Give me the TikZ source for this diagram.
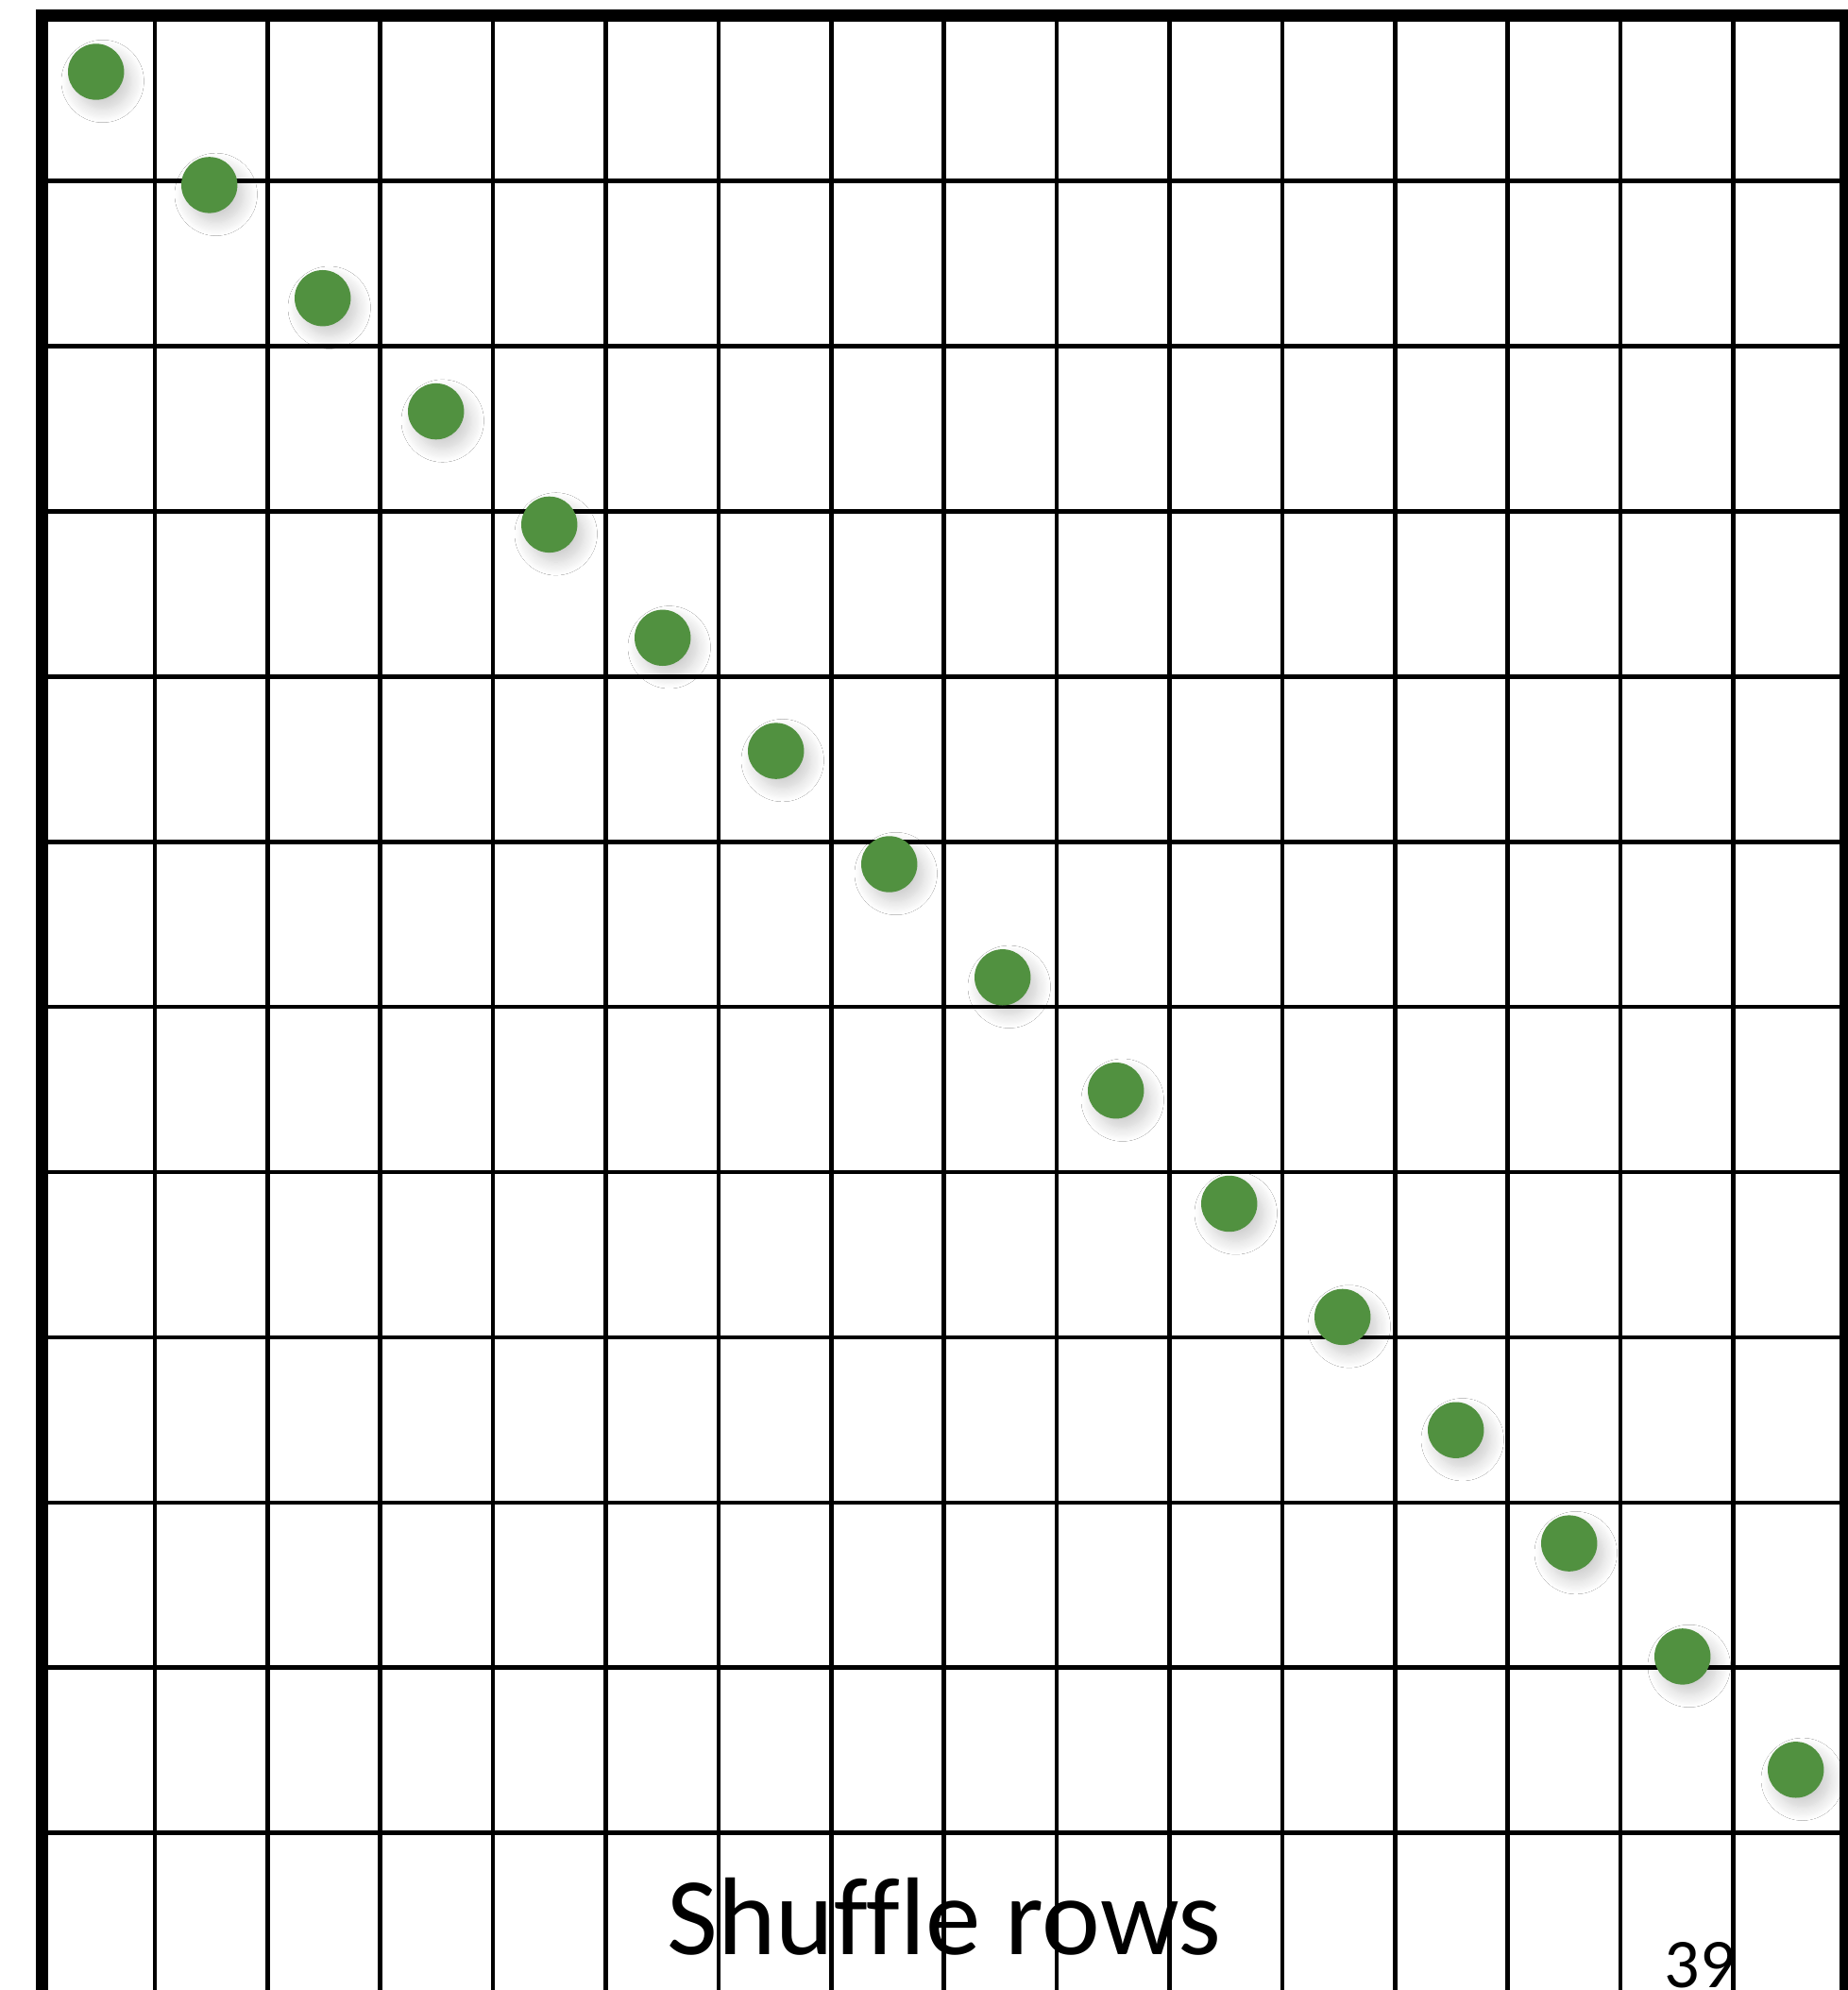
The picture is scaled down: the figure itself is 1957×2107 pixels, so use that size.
\documentclass[tikz,border=0pt]{standalone}
\usepackage{fontspec}
\setmainfont{Carlito}[Ligatures=CommonOff]
\usepackage{tikz}
\usetikzlibrary{shadows.blur}
\definecolor{dotgreen}{RGB}{81,145,64}

\begin{document}
\begin{tikzpicture}[x=0.5pt, y=-0.5pt,
  gridline/.style={line width=2.3pt},
  dot/.style={circle, fill=dotgreen, inner sep=0pt, minimum size=29.7pt,
    blur shadow={shadow xshift=3.5pt, shadow yshift=-5pt, shadow blur radius=7pt,
      shadow blur steps=12, shadow opacity=20}}]
  \useasboundingbox (0, 0) rectangle (1957, 2107);
  \clip (0, 0) rectangle (1957, 2107);
  \fill[white] (0, 0) rectangle (1957, 2107);

  % rows
  \draw[gridline] (44.5, 191.6) -- (1954.5, 191.6);
  \draw[gridline] (44.5, 366.5) -- (1954.5, 366.5);
  \draw[gridline] (44.5, 541.4) -- (1954.5, 541.4);
  \draw[gridline] (44.5, 716.3) -- (1954.5, 716.3);
  \draw[gridline] (44.5, 891.2) -- (1954.5, 891.2);
  \draw[gridline] (44.5, 1066.1) -- (1954.5, 1066.1);
  \draw[gridline] (44.5, 1241) -- (1954.5, 1241);
  \draw[gridline] (44.5, 1415.9) -- (1954.5, 1415.9);
  \draw[gridline] (44.5, 1590.8) -- (1954.5, 1590.8);
  \draw[gridline] (44.5, 1765.7) -- (1954.5, 1765.7);
  \draw[gridline] (44.5, 1940.6) -- (1954.5, 1940.6);

  % columns
  \draw[gridline] (163.9, 16.7) -- (163.9, 2120);
  \draw[gridline] (283.3, 16.7) -- (283.3, 2120);
  \draw[gridline] (402.7, 16.7) -- (402.7, 2120);
  \draw[gridline] (522.1, 16.7) -- (522.1, 2120);
  \draw[gridline] (641.5, 16.7) -- (641.5, 2120);
  \draw[gridline] (760.9, 16.7) -- (760.9, 2120);
  \draw[gridline] (880.3, 16.7) -- (880.3, 2120);
  \draw[gridline] (999.7, 16.7) -- (999.7, 2120);
  \draw[gridline] (1119.1, 16.7) -- (1119.1, 2120);
  \draw[gridline] (1238.5, 16.7) -- (1238.5, 2120);
  \draw[gridline] (1357.9, 16.7) -- (1357.9, 2120);
  \draw[gridline] (1477.3, 16.7) -- (1477.3, 2120);
  \draw[gridline] (1596.7, 16.7) -- (1596.7, 2120);
  \draw[gridline] (1716.1, 16.7) -- (1716.1, 2120);
  \draw[gridline] (1835.5, 16.7) -- (1835.5, 2120);

  % frame
  \draw[line width=6.6pt] (44.5, 2130) -- (44.5, 16.7) -- (1954.5, 16.7) -- (1954.5, 2130);

  % diagonal
  \node[dot] (d1) at (101.7, 76) {};
  \node[dot] (d2) at (221.7, 195.9) {};
  \node[dot] (d3) at (341.7, 315.7) {};
  \node[dot] (d4) at (461.7, 435.6) {};
  \node[dot] (d5) at (581.7, 555.4) {};
  \node[dot] (d6) at (701.7, 675.3) {};
  \node[dot] (d7) at (821.7, 795.1) {};
  \node[dot] (d8) at (941.7, 915) {};
  \node[dot] (d9) at (1061.7, 1034.8) {};
  \node[dot] (d10) at (1181.7, 1154.7) {};
  \node[dot] (d11) at (1301.7, 1274.5) {};
  \node[dot] (d12) at (1421.7, 1394.4) {};
  \node[dot] (d13) at (1541.7, 1514.2) {};
  \node[dot] (d14) at (1661.7, 1634.1) {};
  \node[dot] (d15) at (1781.7, 1753.9) {};
  \node[dot] (d16) at (1901.7, 1873.8) {};

  \node[anchor=base, inner sep=0pt, font=\fontsize{58.5}{60}\selectfont] (title) at (1000, 2069) {Shuffle rows};
  \node[anchor=base, inner sep=0pt, font=\fontsize{37}{40}\selectfont] (pagenum) at (1800, 2104) {39};
\end{tikzpicture}
\end{document}
